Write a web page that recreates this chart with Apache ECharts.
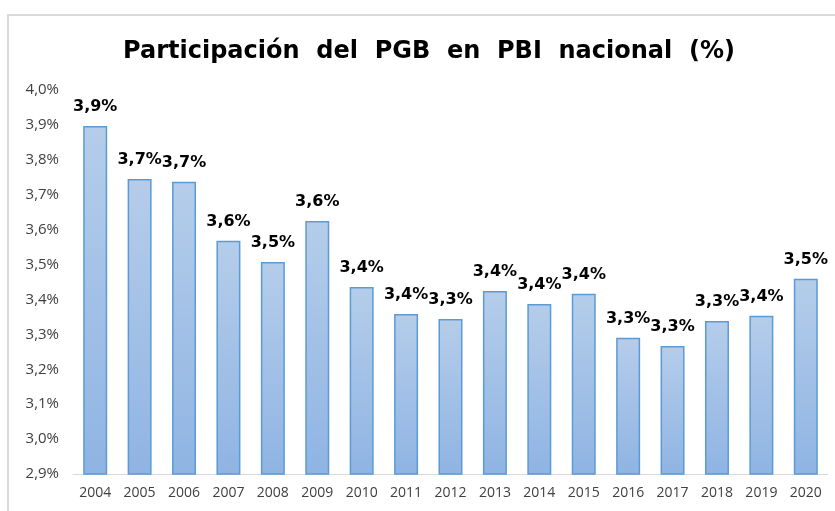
<!DOCTYPE html>
<html>
<head>
<meta charset="utf-8">
<script src="https://cdn.jsdelivr.net/npm/echarts@6/dist/echarts.min.js"></script>
<style>
  html, body { margin: 0; padding: 0; background: #fff; }
  #frame { position: absolute; left: 7px; top: 14px; width: 840px; height: 510px;
           border-left: 2px solid #d9d9d9; border-top: 2px solid #d9d9d9; }
  #chart { position: absolute; left: 0; top: 0; width: 835px; height: 511px; }
</style>
</head>
<body>
<div id="frame"></div>
<div id="chart"></div>
<script>
const years = ['2004', '2005', '2006', '2007', '2008', '2009', '2010', '2011', '2012',
  '2013', '2014', '2015', '2016', '2017', '2018', '2019', '2020'];
const shares = [3.897, 3.745, 3.737, 3.568, 3.507, 3.625, 3.436, 3.358, 3.344,
  3.424, 3.387, 3.416, 3.29, 3.267, 3.338, 3.353, 3.459];
const shareLabels = ['3,9%', '3,7%', '3,7%', '3,6%', '3,5%', '3,6%', '3,4%', '3,4%', '3,3%',
  '3,4%', '3,4%', '3,4%', '3,3%', '3,3%', '3,3%', '3,4%', '3,5%'];

const chart = echarts.init(document.getElementById('chart'));

chart.setOption({
  animation: false,
  title: {
    text: 'Participación  del  PGB  en  PBI  nacional  (%)',
    left: 118,
    top: 35,
    textStyle: {
      fontFamily: 'DejaVu Sans',
      fontWeight: 'bold',
      fontSize: 24,
      color: '#000',
    },
  },
  grid: { left: 73, right: 7, top: 90, bottom: 37 },
  xAxis: {
    type: 'category',
    data: years,
    axisLine: { lineStyle: { color: '#d9d9d9', width: 1 } },
    axisTick: { show: false },
    axisLabel: {
      interval: 0,
      fontFamily: 'Open Sans',
      fontSize: 14,
      color: '#404040',
      margin: 12,
    },
  },
  yAxis: {
    type: 'value',
    min: 2.9,
    max: 4.0,
    interval: 0.1,
    splitLine: { show: false },
    axisLine: { show: false },
    axisLabel: {
      fontFamily: 'Open Sans',
      fontSize: 15,
      color: '#404040',
      margin: 14,
      formatter: (v) => v.toFixed(1).replace('.', ',') + '%',
    },
  },
  series: [
    {
      type: 'bar',
      data: shares,
      barWidth: '54%',
      itemStyle: {
        color: new echarts.graphic.LinearGradient(0, 0, 0, 1, [
          { offset: 0, color: '#b5cdea' },
          { offset: 1, color: '#8fb4e3' },
        ]),
        borderColor: '#5b9bd5',
        borderWidth: 1.5,
      },
      label: {
        show: true,
        position: 'top',
        distance: 11,
        fontFamily: 'DejaVu Sans',
        fontWeight: 'bold',
        fontSize: 16,
        color: '#000',
        formatter: (p) => shareLabels[p.dataIndex],
      },
    },
  ],
});
</script>
</body>
</html>
